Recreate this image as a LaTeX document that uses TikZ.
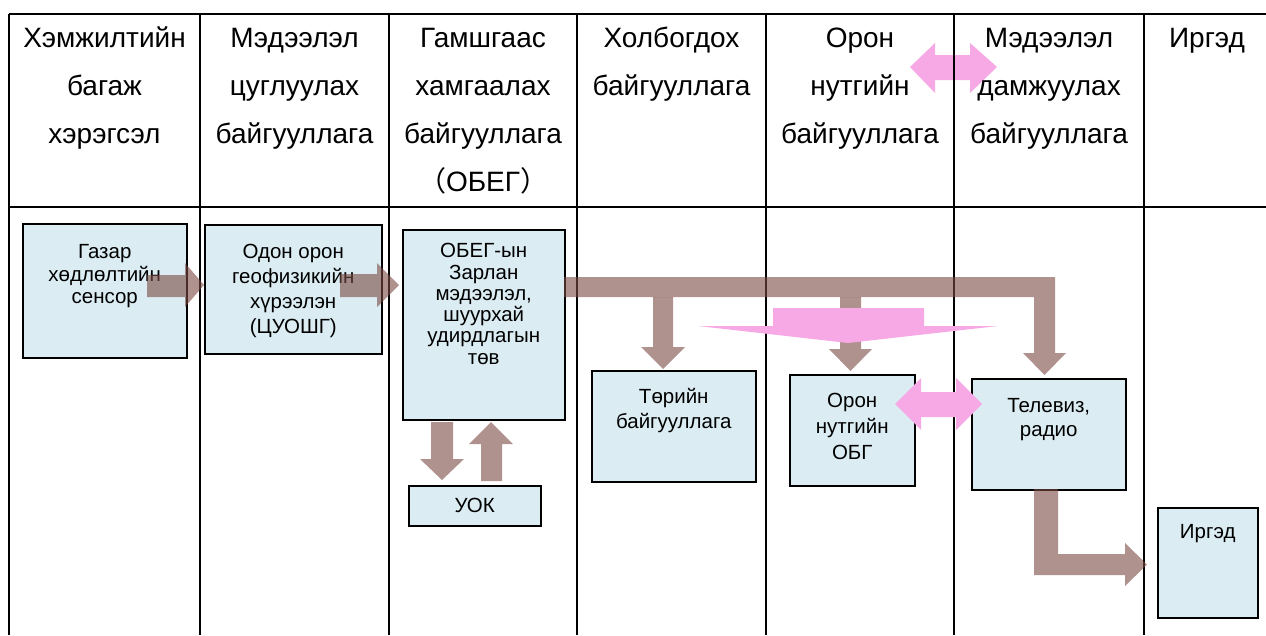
\documentclass[tikz,border=0pt]{standalone}
\usepackage{fontspec}
\setmainfont{Liberation Sans}
\newfontfamily\cjk{Noto Sans CJK SC}
\newcommand{\bxt}[5]{\parbox[t][#2pt][t]{#1pt}{\centering\baselineskip=#4pt\rule{0pt}{#3pt}#5\par}}
\definecolor{boxc}{RGB}{219,237,243}
\definecolor{arrc}{RGB}{122,72,66}
\definecolor{pinkc}{RGB}{247,169,230}
\tikzset{
  gridline/.style={line width=1.8pt, black},
  head/.style={font=\fontsize{28}{48}\selectfont, align=center, anchor=north, inner sep=0pt},
  bx/.style={draw=black, line width=1.5pt, fill=boxc, inner sep=0pt, anchor=north west, font=\fontsize{20.5}{23}\selectfont},
  brn/.style={fill=arrc, fill opacity=0.6},
  pnk/.style={fill=pinkc}
}
\begin{document}
\begin{tikzpicture}[x=1pt, y=-1pt]
\useasboundingbox (0,0) rectangle (1266,635);
% pink header double arrow (under the grid)
\fill[pnk] (910,67) -- (935,43) -- (935,55) -- (970,55) -- (970,43) -- (997,67) -- (970,93) -- (970,80) -- (935,80) -- (935,93) -- cycle;
% grid
\foreach \x in {9,200,389,577,766,954,1144} \draw[gridline] (\x,14) -- (\x,635);
\draw[gridline] (9,14) -- (1266,14);
\draw[gridline] (9,207) -- (1266,207);
% headers
\node[head] (h1) at (104.5,14) {\strut Хэмжилтийн\\багаж\\хэрэгсэл};
\node[head] (h2) at (294.5,14) {\strut Мэдээлэл\\цуглуулах\\байгууллага};
\node[head] (h3) at (483,14) {\strut Гамшгаас\\хамгаалах\\байгууллага\\{\cjk（}ОБЕГ{\cjk）}};
\node[head] (h4) at (671.5,14) {\strut Холбогдох\\байгууллага};
\node[head] (h5) at (860,14) {\strut Орон\\нутгийн\\байгууллага};
\node[head] (h6) at (1049,14) {\strut Мэдээлэл\\дамжуулах\\байгууллага};
\node[head] (h7) at (1207,14) {\strut Иргэд};
% boxes
\node[bx] (b1) at (22,223) {\bxt{164}{134}{35}{22.5}{Газар\\хөдлөлтийн\\сенсор}};
\node[bx] (b2) at (204,224) {\bxt{177}{129}{34}{25}{Одон орон\\геофизикийн\\хүрээлэн\\(ЦУОШГ)}};
\node[bx] (b3) at (402,229) {\bxt{162}{190}{28}{21.3}{ОБЕГ-ын\\Зарлан\\мэдээлэл,\\шуурхай\\удирдлагын\\төв}};
\node[bx] (b4) at (408,485) {\bxt{132}{40}{27}{23}{УОК}};
\node[bx] (b5) at (591,370) {\bxt{164}{111}{33}{25}{Төрийн\\байгууллага}};
\node[bx] (b6) at (789,374) {\bxt{125}{111}{33}{26}{Орон\\нутгийн\\ОБГ}};
\node[bx] (b7) at (971,378) {\bxt{154}{111}{34}{24}{Телевиз,\\радио}};
\node[bx] (b8) at (1157,507) {\bxt{100}{110}{31}{24}{Иргэд}};
% brown block arrows
\fill[brn] (147,275) -- (185,275) -- (185,263) -- (204,285) -- (185,307) -- (185,297) -- (147,297) -- cycle;
\fill[brn] (340,274) -- (377,274) -- (377,263) -- (399,285) -- (377,307) -- (377,297) -- (340,297) -- cycle;
\fill[brn] (564,277) -- (1055,277) -- (1055,353) -- (1066,353) -- (1044.5,375) -- (1023,353) -- (1034,353) -- (1034,297) -- (564,297) -- cycle;
\fill[brn] (653,297) -- (673,297) -- (673,347) -- (685,347) -- (663,369) -- (641,347) -- (653,347) -- cycle;
\fill[brn] (840,297) -- (861,297) -- (861,349) -- (872,349) -- (850.5,371) -- (829,349) -- (840,349) -- cycle;
\fill[brn] (431,422) -- (453,422) -- (453,459) -- (464,459) -- (442,480) -- (420,459) -- (431,459) -- cycle;
\fill[brn] (481,481) -- (502,481) -- (502,444) -- (513,444) -- (491,422) -- (469,444) -- (481,444) -- cycle;
\fill[brn] (1034,489) -- (1058,489) -- (1058,554) -- (1125,554) -- (1125,543) -- (1147,564.5) -- (1125,586) -- (1125,575) -- (1034,575) -- cycle;
% pink shapes
\fill[pnk] (773,308) -- (924,308) -- (924,326) -- (998,326) -- (848,343) -- (698,326) -- (773,326) -- cycle;
\fill[pnk] (895,404) -- (921,378) -- (921,392) -- (956,392) -- (956,378) -- (982,404) -- (956,430) -- (956,417) -- (921,417) -- (921,430) -- cycle;
\end{tikzpicture}
\end{document}
